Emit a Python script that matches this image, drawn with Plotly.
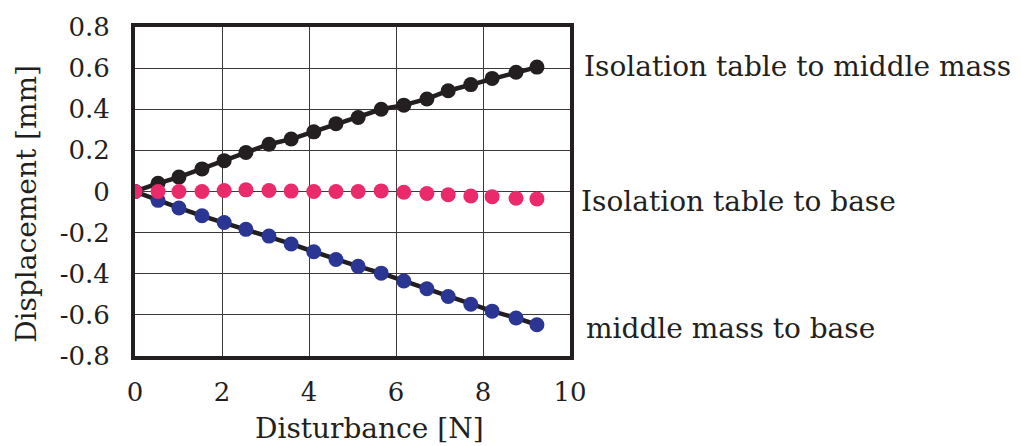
import plotly.graph_objects as go

# Disturbance force [N]
force = [0, 0.53, 1.01, 1.54, 2.05, 2.55, 3.08, 3.59, 4.11, 4.62,
         5.13, 5.66, 6.18, 6.71, 7.20, 7.72, 8.21, 8.76, 9.24]

# Displacement [mm]
table_to_middle = [0, 0.04, 0.07, 0.11, 0.15, 0.19, 0.23, 0.255, 0.29, 0.33,
                   0.36, 0.40, 0.42, 0.45, 0.49, 0.52, 0.55, 0.58, 0.605]
table_to_base = [0, 0, 0, 0, 0.005, 0.008, 0.005, 0.002, 0, 0,
                 0, 0.003, -0.004, -0.01, -0.016, -0.022, -0.025, -0.033, -0.036]
middle_to_base = [0, -0.043, -0.08, -0.118, -0.151, -0.184, -0.217, -0.255, -0.293, -0.331,
                  -0.364, -0.397, -0.435, -0.473, -0.511, -0.548, -0.582, -0.615, -0.648]

x_ticks = [0, 2, 4, 6, 8, 10]
y_ticks = [0.8, 0.6, 0.4, 0.2, 0, -0.2, -0.4, -0.6, -0.8]
y_tick_text = ["0.8", "0.6", "0.4", "0.2", "0", "-0.2", "-0.4", "-0.6", "-0.8"]

labels = ["Isolation table to middle mass", "Isolation table to base", "middle mass to base"]
label_y = [0.61, -0.047, -0.667]
label_x = [1.028, 1.021, 1.032]
label_size = [28, 28, 28]

FONT = "DejaVu Serif"
TXT = "#231f20"

fig = go.Figure()
fig.add_trace(go.Scatter(x=force, y=table_to_middle, mode="lines+markers",
                         line=dict(color="#231f20", width=4.5),
                         marker=dict(color="#231f20", size=15), showlegend=False))
fig.add_trace(go.Scatter(x=force, y=middle_to_base, mode="lines+markers",
                         line=dict(color="#231f20", width=4.5),
                         marker=dict(color="#2b3593", size=15), showlegend=False))
fig.add_trace(go.Scatter(x=force, y=table_to_base, mode="markers",
                         marker=dict(color="#ea2a6b", size=15), showlegend=False))

for t, yy, xx, sz in zip(labels, label_y, label_x, label_size):
    fig.add_annotation(text=t, x=xx, y=yy, xref="paper", yref="y",
                       xanchor="left", yanchor="middle", showarrow=False,
                       font=dict(family=FONT, size=sz, color=TXT))

fig.add_annotation(text="Disturbance [N]", x=5.4, y=0, xref="x", yref="paper",
                   yshift=-72, xanchor="center", yanchor="middle", showarrow=False,
                   font=dict(family=FONT, size=28, color=TXT))
fig.add_annotation(text="Displacement [mm]", x=0, y=-0.06, xref="paper", yref="y",
                   xshift=-108, textangle=-90, xanchor="center", yanchor="middle",
                   showarrow=False, font=dict(family=FONT, size=28, color=TXT))

fig.update_xaxes(range=[0, 10], tickvals=x_ticks, showgrid=True,
                 gridcolor="#3a3a3a", gridwidth=1.3, zeroline=False,
                 showline=True, linecolor="#231f20", linewidth=4, mirror=True,
                 ticks="", ticklabelstandoff=10,
                 tickfont=dict(family=FONT, size=26, color=TXT))
fig.update_yaxes(range=[-0.8, 0.8], tickvals=y_ticks, ticktext=y_tick_text,
                 showgrid=True, gridcolor="#3a3a3a", gridwidth=1.3, zeroline=False,
                 showline=True, linecolor="#231f20", linewidth=4, mirror=True,
                 ticks="", ticklabelstandoff=16,
                 tickfont=dict(family=FONT, size=26, color=TXT))

fig.update_layout(width=1021, height=446,
                  margin=dict(l=135, r=451, t=18, b=90),
                  plot_bgcolor="white", paper_bgcolor="white")

fig.write_html("out.html")
